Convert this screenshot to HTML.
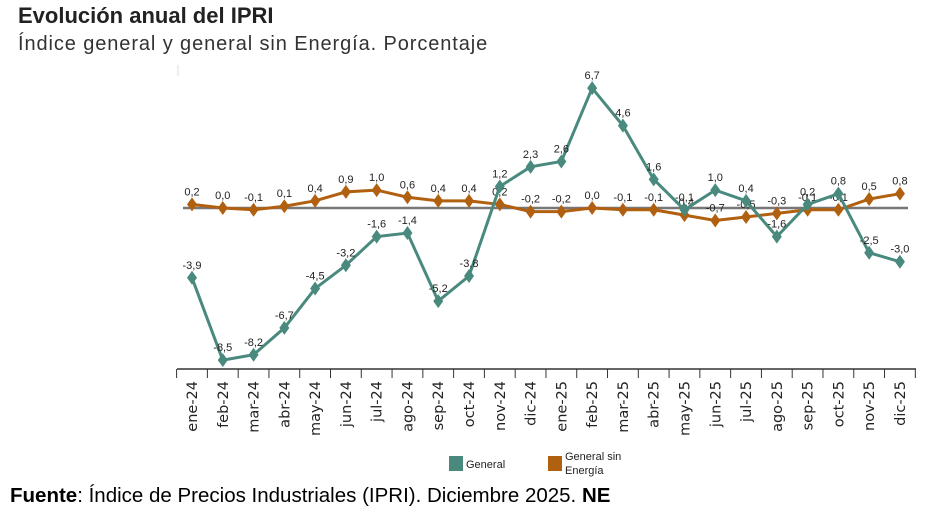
<!DOCTYPE html>
<html><head><meta charset="utf-8"><style>
body{margin:0;width:940px;height:514px;background:#fff;font-family:"Liberation Sans",sans-serif;overflow:hidden;position:relative}
.t1{position:absolute;left:18px;top:3px;font-size:22px;font-weight:bold;color:#222}
.t2{position:absolute;left:18px;top:33px;font-size:20px;color:#333;letter-spacing:0.9px}
.src{position:absolute;left:10px;top:484px;font-size:20.5px;color:#000}
svg{position:absolute;left:0;top:0}
</style></head><body>
<div class="t1">Evolución anual del IPRI</div>
<div class="t2">Índice general y general sin Energía. Porcentaje</div>
<svg id="c" width="940" height="514"></svg>
<div class="src"><b>Fuente</b>: Índice de Precios Industriales (IPRI). Diciembre 2025. <b>NE</b></div>
<script>
const categories=["ene-24","feb-24","mar-24","abr-24","may-24","jun-24","jul-24","ago-24","sep-24","oct-24","nov-24","dic-24","ene-25","feb-25","mar-25","abr-25","may-25","jun-25","jul-25","ago-25","sep-25","oct-25","nov-25","dic-25"];
const general=[-3.9,-8.5,-8.2,-6.7,-4.5,-3.2,-1.6,-1.4,-5.2,-3.8,1.2,2.3,2.6,6.7,4.6,1.6,-0.1,1.0,0.4,-1.6,0.2,0.8,-2.5,-3.0];
const sinEnergia=[0.2,0.0,-0.1,0.1,0.4,0.9,1.0,0.6,0.4,0.4,0.2,-0.2,-0.2,0.0,-0.1,-0.1,-0.4,-0.7,-0.5,-0.3,-0.1,-0.1,0.5,0.8];
const NS="http://www.w3.org/2000/svg",svg=document.getElementById('c');
const x=i=>192+i*30.78, y=v=>208-v*17.9;
function mk(t,a){const e=document.createElementNS(NS,t);for(const k in a)e.setAttribute(k,a[k]);svg.appendChild(e);return e;}
const fmt=v=>v.toFixed(1).replace('.',',');
let e=mk('line',{x1:178,y1:65,x2:178,y2:76,stroke:'#ddd'});

e=mk('line',{x1:183,y1:208,x2:908,y2:208,stroke:'#777','stroke-width':2.5});

e=mk('line',{x1:177,y1:369,x2:916,y2:369,stroke:'#333','stroke-width':1.5});

for(let i=0;i<=categories.length;i++){const tx=x(i)-15.4;
e=mk('line',{x1:tx,y1:369,x2:tx,y2:378,stroke:'#333'});
}
categories.forEach((c,i)=>{const tx=x(i)+5;
e=mk('text',{x:0,y:0,transform:`translate(${tx},381) rotate(-90)`,'text-anchor':'end','font-size':14.5,fill:'#222','font-family':'DejaVu Sans, sans-serif'});
e.textContent=c;});
function series(vals,col,name){
const pts=vals.map((v,i)=>x(i)+','+y(v)).join(' ');
let p=mk('polyline',{points:pts,fill:'none',stroke:col,'stroke-width':3});

vals.forEach((v,i)=>{const cx=x(i),cy=y(v);
let m=mk('polygon',{points:`${cx},${cy-7} ${cx+5},${cy} ${cx},${cy+7} ${cx-5},${cy}`,fill:col});

let t=mk('text',{x:cx,y:cy-9,'text-anchor':'middle','font-size':11,fill:'#222'});
t.textContent=fmt(v);});}
series(sinEnergia,'#b0600f','sin-energia');
series(general,'#4a8a7e','general');
e=mk('rect',{x:449,y:456,width:14,height:15,fill:'#4a8a7e'});

e=mk('text',{x:466,y:468,'font-size':11,fill:'#222'});e.textContent='General';

e=mk('rect',{x:548,y:456,width:14,height:15,fill:'#b0600f'});

e=mk('text',{x:565,y:460,'font-size':11,fill:'#222'});e.textContent='General sin';

e=mk('text',{x:565,y:474,'font-size':11,fill:'#222'});e.textContent='Energía';

</script>
</body></html>
